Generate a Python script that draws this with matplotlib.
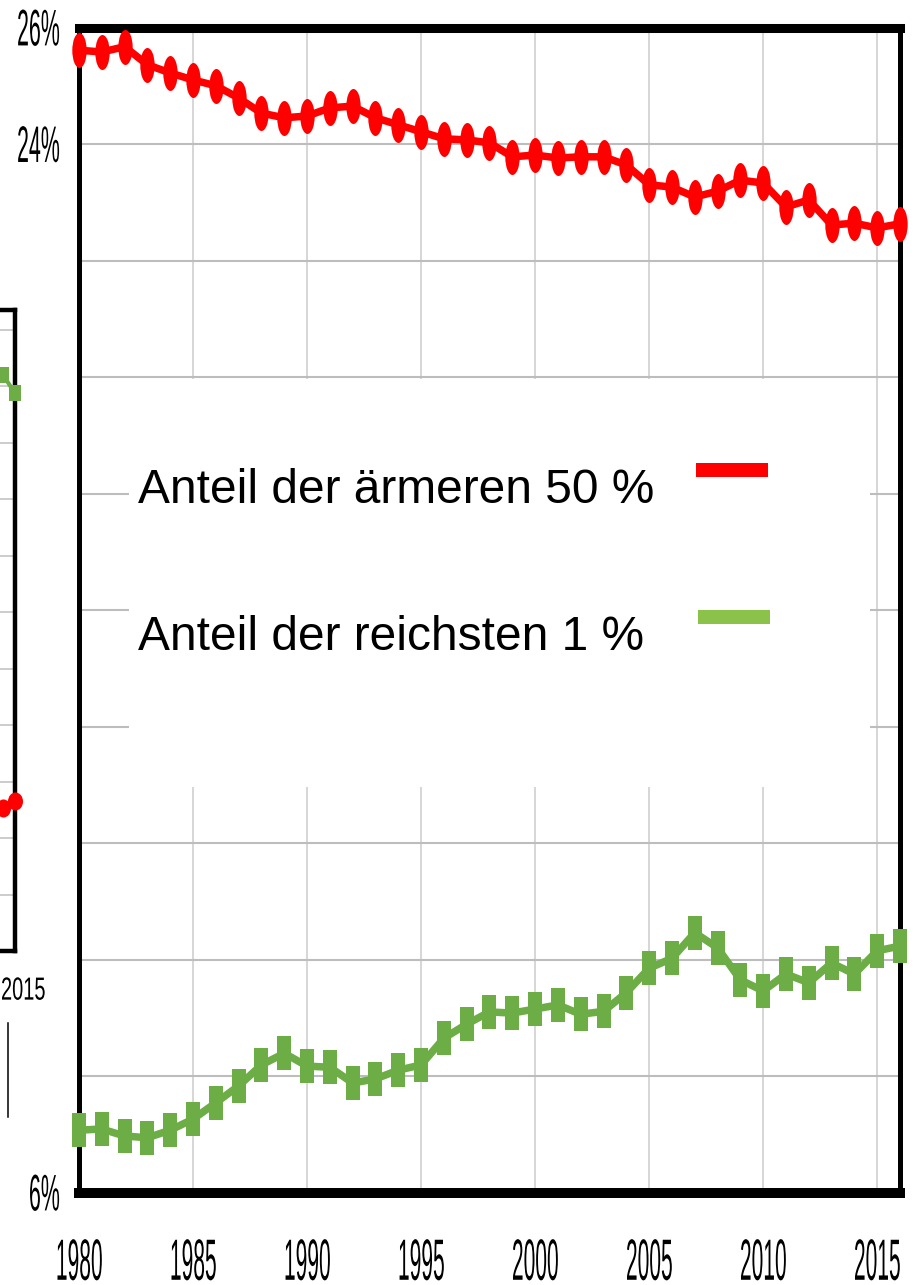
import matplotlib
matplotlib.use("Agg")
import matplotlib.pyplot as plt
from matplotlib.path import Path
from matplotlib.patches import Rectangle
from matplotlib.lines import Line2D
from matplotlib.patheffects import AbstractPathEffect
from matplotlib.transforms import Affine2D

# ---------------- data ----------------
years = list(range(1980, 2017))
bottom50_share = [25.61, 25.58, 25.67, 25.36, 25.22, 25.10, 25.00, 24.79, 24.53, 24.45,
                  24.48, 24.62, 24.65, 24.45, 24.33, 24.21, 24.09, 24.07, 24.02, 23.78,
                  23.81, 23.76, 23.78, 23.78, 23.64, 23.30, 23.26, 23.09, 23.19, 23.38,
                  23.33, 22.92, 23.04, 22.61, 22.64, 22.56, 22.63]
top1_share = [7.07, 7.09, 6.97, 6.94, 7.07, 7.26, 7.54, 7.83, 8.19, 8.39,
              8.17, 8.15, 7.88, 7.95, 8.10, 8.19, 8.65, 8.89, 9.10, 9.08,
              9.15, 9.22, 9.06, 9.11, 9.43, 9.85, 10.02, 10.46, 10.20, 9.65,
              9.46, 9.75, 9.60, 9.94, 9.75, 10.15, 10.23]
series_labels = ["Anteil der ärmeren 50 %", "Anteil der reichsten 1 %"]

xtick_years = [1980, 1985, 1990, 1995, 2000, 2005, 2010, 2015]
ytick_values = [6, 8, 10, 12, 14, 16, 18, 20, 22, 24, 26]
ytick_labels = ["6%", "", "", "", "", "", "", "", "", "24%", "26%"]

# partially visible neighbouring chart on the left edge
left_years = [2014, 2015]
left_top1 = [20.39, 19.75]
left_bottom50 = [5.06, 5.31]
left_xtick_label = "2015"
left_grid_values = [0, 2, 4, 6, 8, 10, 12, 14, 16, 18, 20, 22]

RED = "#ff0000"
GREEN = "#6cad45"
GREEN_SWATCH = "#8bc34a"

plt.rcParams["font.family"] = ["Liberation Sans", "DejaVu Sans"]


class Stretch(AbstractPathEffect):
    """Draw text glyphs scaled (condensed / tall) about an anchor."""

    def __init__(self, sx=1.0, sy=1.0, anchor="center"):
        super().__init__()
        self.sx, self.sy, self.anchor = sx, sy, anchor

    def draw_path(self, renderer, gc, tpath, affine, rgbFace=None):
        ext = tpath.get_extents()
        if self.anchor == "right":
            ax_ = ext.x1
        elif self.anchor == "left":
            ax_ = ext.x0
        else:
            ax_ = (ext.x0 + ext.x1) / 2
        ay = (ext.y0 + ext.y1) / 2
        t = Affine2D().translate(-ax_, -ay).scale(self.sx, self.sy).translate(ax_, ay)
        renderer.draw_path(gc, tpath, t + affine, rgbFace)


W, H = 920, 1285
fig = plt.figure(figsize=(W / 100, H / 100), dpi=100)
fig.patch.set_facecolor("white")


def fx(px):
    return px / W


def fy(py):
    return 1 - py / H


# ---------------- main chart ----------------
L, R, T, B = 79, 900, 27.5, 1192.5
ax = fig.add_axes([fx(L), fy(B), fx(R - L), (B - T) / H])
ax.set_xlim(1980, 2016)
ax.set_ylim(6, 26)

ellipse = Path.unit_circle().transformed(Affine2D().scale(7.2, 17.5))
rect = Path([(-6.5, -16.5), (6.5, -16.5), (6.5, 16.5), (-6.5, 16.5), (-6.5, -16.5)],
            closed=True)

ax.plot(years, bottom50_share, color=RED, lw=5.4, marker=ellipse, markersize=25.2,
        markeredgewidth=0, markerfacecolor=RED, zorder=4, clip_on=False,
        solid_joinstyle="round")
ax.plot(years, top1_share, color=GREEN, lw=5.4, marker=rect, markersize=23.8,
        markeredgewidth=0, markerfacecolor=GREEN, zorder=4, clip_on=False,
        solid_joinstyle="round")

ax.set_yticks(ytick_values)
ax.set_yticklabels(ytick_labels)
ax.set_xticks(xtick_years)
ax.set_xticklabels([str(y) for y in xtick_years])
ax.tick_params(axis="both", length=0)
ax.tick_params(axis="x", pad=40.7, labelsize=19.4)
ax.tick_params(axis="y", pad=13.7, labelsize=17.3)
for lab in ax.get_xticklabels():
    lab.set_path_effects([Stretch(0.78, 2.16, "center")])
for lab in ax.get_yticklabels():
    lab.set_path_effects([Stretch(0.89, 2.14, "right")])

ax.set_axisbelow(True)
ax.yaxis.grid(True, color="#bdbdbd", lw=1.5)
ax.xaxis.grid(True, color="#cccccc", lw=1.1)

ax.spines["top"].set_linewidth(6.5)
ax.spines["bottom"].set_linewidth(7.2)
ax.spines["left"].set_linewidth(3.6)
ax.spines["right"].set_linewidth(3.6)
for s in ax.spines.values():
    s.set_color("black")
    s.set_zorder(3)

# white legend panel covering the grid
ax.add_patch(Rectangle((1980 + (129 - L) / 22.8, 12.96),
                       (870 - 129) / 22.8, 19.97 - 12.96,
                       facecolor="white", edgecolor="none", zorder=1))

# legend entries (label then colour swatch)
label_y = [(B - 503) / (B - T), (B - 650) / (B - T)]
swatch_x = [(696 - L) / (R - L), (698 - L) / (R - L)]
swatch_y = [(B - 477) / (B - T), (B - 624) / (B - T)]
for lab, yy, sx_, sy_, col in zip(series_labels, label_y, swatch_x, swatch_y,
                                  [RED, GREEN_SWATCH]):
    ax.text((138 - L) / (R - L), yy, lab, transform=ax.transAxes, fontsize=34.5,
            ha="left", va="baseline", color="black", zorder=5)
    ax.add_patch(Rectangle((sx_, sy_), 72 / (R - L), 14 / (B - T),
                           transform=ax.transAxes, facecolor=col,
                           edgecolor="none", zorder=5))

# ---------------- neighbouring chart (cut off at left edge) ----------------
lL, lR, lT, lB = -405, 15, 310, 951
ax2 = fig.add_axes([fx(lL), fy(lB), fx(lR - lL), (lB - lT) / H])
ax2.set_xlim(1980, 2015)
ax2.set_ylim(0, (lB - lT) / 28.25)
ax2.set_yticks(left_grid_values)
ax2.set_yticklabels([])
ax2.set_xticks([])
ax2.tick_params(axis="both", length=0)
ax2.set_axisbelow(True)
ax2.yaxis.grid(True, color="#c4c4c4", lw=1.2)
for s in ax2.spines.values():
    s.set_linewidth(3.2)
    s.set_color("black")
    s.set_zorder(3)

ell_small = Path.unit_circle().transformed(Affine2D().scale(7.5, 9))
rect_small = Path([(-6, -8.5), (6, -8.5), (6, 8.5), (-6, 8.5), (-6, -8.5)], closed=True)
ax2.plot(left_years, left_top1, color=GREEN, lw=3, marker=rect_small, markersize=12.2,
         markeredgewidth=0, zorder=4, clip_on=False)
ax2.plot(left_years, left_bottom50, color=RED, lw=3, marker=ell_small, markersize=13,
         markeredgewidth=0, zorder=4, clip_on=False)

# year label of the neighbouring chart, kept just inside the left edge
t2015 = fig.text(fx(1), fy(988), left_xtick_label, fontsize=14.4, ha="left",
                 va="center_baseline", color="black")
t2015.set_path_effects([Stretch(1.0, 1.6, "left")])

# thin stray rule below the neighbouring chart
fig.add_artist(Line2D([fx(8), fx(8)], [fy(1023), fy(1117)], transform=fig.transFigure,
                      color="black", lw=1.1))

fig.savefig("out.png", dpi=100, facecolor="white")
